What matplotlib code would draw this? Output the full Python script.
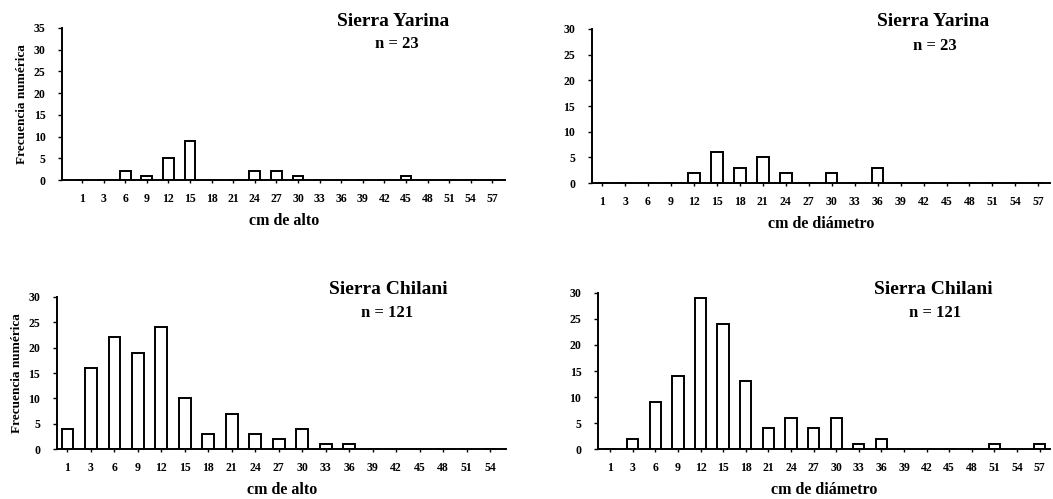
import numpy as np
import matplotlib
matplotlib.use("Agg")
import matplotlib.pyplot as plt

plt.rcParams['font.family'] = ['Liberation Serif', 'DejaVu Serif']

# clases (cm)
clases_20 = ["1", "3", "6", "9", "12", "15", "18", "21", "24", "27",
             "30", "33", "36", "39", "42", "45", "48", "51", "54", "57"]
clases_19 = clases_20[:19]

# Sierra Yarina, n = 23
yarina_alto = [0, 0, 2, 1, 5, 9, 0, 0, 2, 2, 1, 0, 0, 0, 0, 1, 0, 0, 0, 0]
yarina_diam = [0, 0, 0, 0, 2, 6, 3, 5, 2, 0, 2, 0, 3, 0, 0, 0, 0, 0, 0, 0]

# Sierra Chilani, n = 121
chilani_alto = [4, 16, 22, 19, 24, 10, 3, 7, 3, 2, 4, 1, 1, 0, 0, 0, 0, 0, 0]
chilani_diam = [0, 2, 9, 14, 29, 24, 13, 4, 6, 4, 6, 1, 2, 0, 0, 0, 0, 1, 0, 1]

W, H = 1053, 499

paneles = [
    # datos, etiquetas, titulo, n, xlabel, ylabel?, ymax, rect, xlim, pos titulo (px), pos n (px)
    (yarina_alto, clases_20, "Sierra Yarina", "n = 23", "cm de alto", True, 35,
     [0.059, 0.639, 0.421, 0.305], (-0.92, 19.6), (393, 22), (397, 44)),
    (yarina_diam, clases_20, "Sierra Yarina", "n = 23", "cm de diámetro", False, 30,
     [0.562, 0.633, 0.435, 0.309], (-0.45, 19.5), (933, 22), (935, 46)),
    (chilani_alto, clases_19, "Sierra Chilani", "n = 121", "cm de alto", True, 30,
     [0.054, 0.100, 0.427, 0.305], (-0.45, 18.7), (388, 290), (387, 313)),
    (chilani_diam, clases_20, "Sierra Chilani", "n = 121", "cm de diámetro", False, 30,
     [0.568, 0.100, 0.429, 0.313], (-0.53, 19.45), (933, 290), (935, 313)),
]

fig = plt.figure(figsize=(W / 100, H / 100), dpi=100)

for datos, etiquetas, titulo, n, xlab, ylab, ymax, rect, xlim, pt, pn in paneles:
    ax = fig.add_axes(rect)
    x = np.arange(len(datos))
    ax.bar(x, datos, width=0.5, color="white", edgecolor="black", linewidth=1.4)
    ax.set_xlim(*xlim)
    ax.set_ylim(0, ymax)
    ax.set_yticks(np.arange(0, ymax + 1, 5))
    ax.set_xticks(x)
    ax.set_xticklabels(etiquetas)
    ax.tick_params(axis="both", labelsize=8.5, length=3, width=1)
    ax.tick_params(axis="x", length=2, pad=7)
    ax.tick_params(axis="y", pad=9)
    for lab in ax.get_xticklabels() + ax.get_yticklabels():
        lab.set_fontweight("bold")
    for s in ["top", "right"]:
        ax.spines[s].set_visible(False)
    ax.spines["left"].set_linewidth(1.4)
    ax.spines["bottom"].set_linewidth(1.4)
    ax.set_xlabel(xlab, fontsize=11.5, fontweight="bold", labelpad=6)
    if ylab:
        ax.set_ylabel("Frecuencia numérica", fontsize=9.5, fontweight="bold", labelpad=4)
    fig.text(pt[0] / W, 1 - pt[1] / H, titulo, ha="center", va="center",
             fontsize=14, fontweight="bold")
    fig.text(pn[0] / W, 1 - pn[1] / H, n, ha="center", va="center",
             fontsize=12, fontweight="bold")

fig.savefig("out.png", dpi=100)
